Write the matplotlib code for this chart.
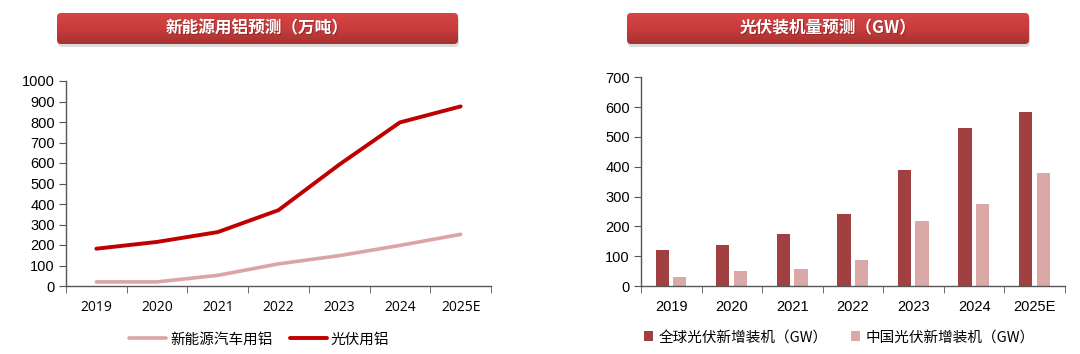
import matplotlib
matplotlib.use("Agg")
import matplotlib.pyplot as plt
from matplotlib.patches import FancyBboxPatch
import numpy as np

plt.rcParams['font.family'] = ['Liberation Sans', 'Noto Sans CJK SC', 'DejaVu Sans']
CJK = ['Noto Sans CJK SC', 'DejaVu Sans']

# data
years = ['2019', '2020', '2021', '2022', '2023', '2024', '2025E']
ev_al = [20, 20, 52, 108, 148, 198, 252]          # 新能源汽车用铝
pv_al = [182, 215, 263, 370, 592, 798, 876]       # 光伏用铝
global_pv = [121, 139, 174, 242, 389, 530, 582]   # 全球光伏新增装机
china_pv = [31, 49, 57, 88, 217, 276, 380]        # 中国光伏新增装机

W, H = 1080, 354
fig = plt.figure(figsize=(10.8, 3.54), dpi=100)

# overlay axes in pixel units for the title banners
bg = fig.add_axes([0, 0, 1, 1])
bg.set_xlim(0, W)
bg.set_ylim(H, 0)
bg.set_axis_off()
cmap = matplotlib.colors.LinearSegmentedColormap.from_list(
    'b', ['#d64545', '#c93c3c', '#a63131'])


def banner(x0, x1, y0, y1, text):
    sh = FancyBboxPatch((x0 + 1, y0 + 3), x1 - x0, y1 - y0,
                        boxstyle="round,pad=0,rounding_size=4",
                        fc='#bbbbbb', ec='none', alpha=0.5, zorder=1)
    bg.add_patch(sh)
    box = FancyBboxPatch((x0, y0), x1 - x0, y1 - y0,
                         boxstyle="round,pad=0,rounding_size=4",
                         fc='none', ec='none', zorder=2)
    bg.add_patch(box)
    grad = np.linspace(0, 1, 60).reshape(-1, 1)
    im = bg.imshow(grad, aspect='auto', cmap=cmap, extent=[x0, x1, y1, y0],
                   origin='upper', zorder=2, interpolation='bilinear')
    im.set_clip_path(box)
    bg.text((x0 + x1) / 2 + 1, (y0 + y1) / 2 + 1, text, ha='center', va='center',
            color='#7a2020', fontsize=12, fontweight='bold', family=CJK, zorder=3, alpha=0.6)
    bg.text((x0 + x1) / 2, (y0 + y1) / 2, text, ha='center', va='center',
            color='white', fontsize=12, fontweight='bold', family=CJK, zorder=4)


banner(57, 458, 13, 44, '新能源用铝预测（万吨）')
banner(627, 1029, 13, 44, '光伏装机量预测（GW）')
bg.set_xlim(0, W)
bg.set_ylim(H, 0)

x = np.arange(len(years))


def style_axis(ax):
    for s in ['top', 'right']:
        ax.spines[s].set_visible(False)
    for s in ['left', 'bottom']:
        ax.spines[s].set_color('#555555')
        ax.spines[s].set_linewidth(1.0)
    ax.set_xlim(-0.5, len(years) - 0.5)
    ax.set_xticks(x)
    ax.set_xticks(np.arange(-0.5, len(years), 1), minor=True)
    ax.tick_params(axis='x', which='major', length=0, pad=10)
    ax.tick_params(axis='x', which='minor', length=5, color='#555555', direction='out')
    ax.tick_params(axis='y', length=5, color='#555555', direction='out', labelsize=10.5, pad=3)


# left: line chart
ax1 = fig.add_axes([66 / W, 1 - 286 / H, (491 - 66) / W, (286 - 81) / H])
ax1.plot(x, ev_al, color='#dba5a5', lw=2.6, solid_capstyle='round', label='新能源汽车用铝')
ax1.plot(x, pv_al, color='#c00000', lw=2.8, solid_capstyle='round', label='光伏用铝')
ax1.set_ylim(0, 1000)
ax1.set_yticks(range(0, 1001, 100))
style_axis(ax1)
ax1.set_xticklabels(years, fontsize=10, family=['Open Sans', 'DejaVu Sans'])
ax1.legend(loc='center', bbox_to_anchor=(0.455, -0.26), ncol=2, frameon=False,
           prop={'family': CJK, 'size': 10.5}, handlelength=2.5, columnspacing=1.2,
           handletextpad=0.3)

# right: bar chart
ax2 = fig.add_axes([641 / W, 1 - 286 / H, (1065 - 641) / W, (286 - 77.3) / H])
bw = 0.22
ax2.bar(x - 0.15, global_pv, width=bw, color='#a04040', label='全球光伏新增装机（GW）')
ax2.bar(x + 0.14, china_pv, width=bw, color='#dba8a8', label='中国光伏新增装机（GW）')
ax2.set_ylim(0, 700)
ax2.set_yticks(range(0, 701, 100))
style_axis(ax2)
ax2.set_xticklabels(years, fontsize=10.5)
ax2.legend(loc='center', bbox_to_anchor=(0.468, -0.245), ncol=2, frameon=False,
           prop={'family': CJK, 'size': 10.5}, handlelength=0.6, handleheight=0.6,
           columnspacing=1.6, handletextpad=0.4)

fig.savefig('out.png', dpi=100)
